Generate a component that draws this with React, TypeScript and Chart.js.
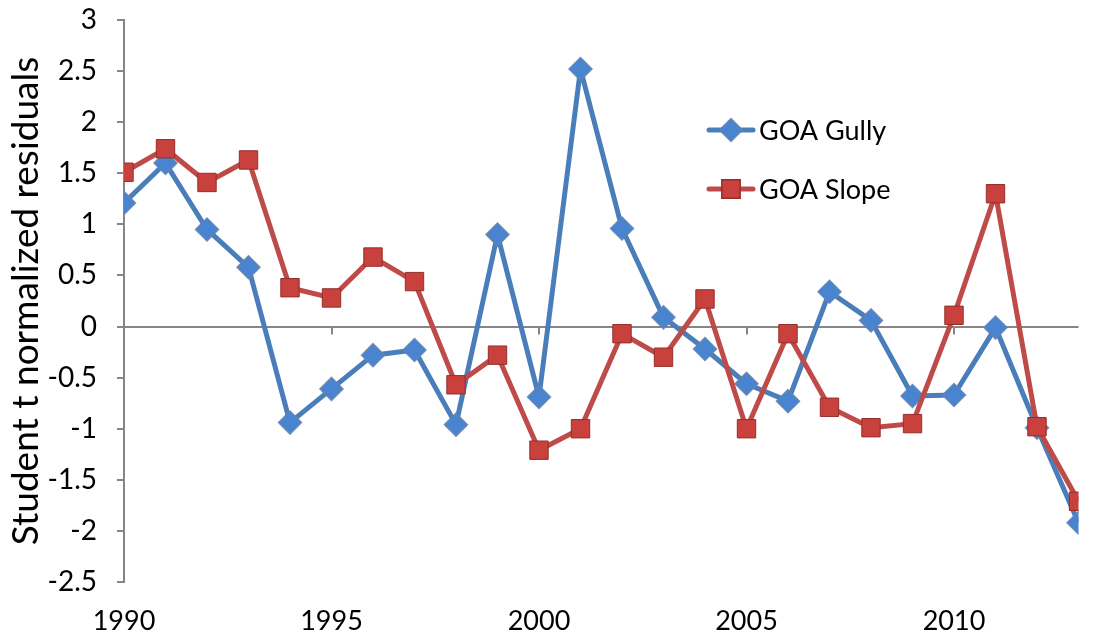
import React, { useEffect, useRef } from "react";
import { Chart, registerables } from "chart.js";

Chart.register(...registerables);

const years = [1990, 1991, 1992, 1993, 1994, 1995, 1996, 1997, 1998, 1999, 2000, 2001, 2002, 2003, 2004, 2005, 2006, 2007, 2008, 2009, 2010, 2011, 2012, 2013];
const gully = [1.21, 1.60, 0.95, 0.58, -0.94, -0.61, -0.28, -0.23, -0.96, 0.90, -0.69, 2.52, 0.96, 0.09, -0.22, -0.56, -0.73, 0.34, 0.06, -0.68, -0.67, -0.01, -0.99, -1.92];
const slope = [1.51, 1.74, 1.41, 1.63, 0.38, 0.28, 0.68, 0.44, -0.57, -0.28, -1.21, -1.00, -0.07, -0.30, 0.27, -1.00, -0.07, -0.79, -0.99, -0.95, 0.11, 1.30, -0.98, -1.71];
const seriesNames = ["GOA Gully", "GOA Slope"];
const yTitle = "Student t normalized residuals";

const FONT = "Lato, 'Open Sans', sans-serif";
const AXIS = "#868686";
const BLUE = "#4A7EBB";
const RED = "#BE4B48";

function drawMarker(ctx: CanvasRenderingContext2D, style: string, x: number, y: number, r: number, fill: string, stroke: string) {
  ctx.save();
  ctx.beginPath();
  if (style === "rectRot") {
    ctx.moveTo(x - r, y);
    ctx.lineTo(x, y - r);
    ctx.lineTo(x + r, y);
    ctx.lineTo(x, y + r);
    ctx.closePath();
  } else {
    const s = Math.SQRT1_2 * r;
    ctx.rect(x - s, y - s, 2 * s, 2 * s);
  }
  ctx.fillStyle = fill;
  ctx.fill();
  ctx.lineWidth = 1.5;
  ctx.strokeStyle = stroke;
  ctx.stroke();
  ctx.restore();
}

const zeroTicksPlugin = {
  id: "zeroTicks",
  beforeDatasetsDraw(chart: any) {
    const { ctx, scales } = chart;
    const xs = scales.x;
    const ys = scales.y;
    const y0 = ys.getPixelForValue(0);
    ctx.save();
    ctx.strokeStyle = AXIS;
    ctx.lineWidth = 2;
    xs.ticks.forEach((t: any) => {
      if (t.value === xs.min) return;
      const px = Math.round(xs.getPixelForValue(t.value));
      ctx.beginPath();
      ctx.moveTo(px, y0);
      ctx.lineTo(px, y0 + 8);
      ctx.stroke();
    });
    ctx.restore();
  },
};

const legendPlugin = {
  id: "customLegend",
  afterDraw(chart: any) {
    const { ctx } = chart;
    const items = [
      { ds: chart.data.datasets[0], y: 130 },
      { ds: chart.data.datasets[1], y: 189 },
    ];
    items.forEach(({ ds, y }) => {
      ctx.save();
      ctx.strokeStyle = ds.borderColor;
      ctx.lineWidth = 5;
      ctx.lineCap = "round";
      ctx.beginPath();
      ctx.moveTo(709, y);
      ctx.lineTo(753, y);
      ctx.stroke();
      drawMarker(ctx, ds.pointStyle, 731, y, ds.pointRadius, ds.pointBackgroundColor, ds.pointBorderColor);
      ctx.fillStyle = "#000";
      ctx.font = `27px ${FONT}`;
      ctx.textBaseline = "middle";
      ctx.textAlign = "left";
      ctx.fillText(ds.label, 759, y + 1);
      ctx.restore();
    });
  },
};

export default function App() {
  const ref = useRef<HTMLCanvasElement | null>(null);
  useEffect(() => {
    document.body.style.margin = "0";
    const canvas = ref.current;
    if (!canvas) return;
    const chart = new Chart(canvas, {
      type: "line",
      data: {
        datasets: [
          {
            label: seriesNames[0],
            data: years.map((yr, i) => ({ x: yr, y: gully[i] })),
            borderColor: BLUE,
            borderWidth: 5,
            pointStyle: "rectRot",
            pointRadius: 11.5,
            pointHoverRadius: 11.5,
            pointBackgroundColor: "#4884CF",
            pointBorderColor: "rgba(100,130,175,0.85)",
            pointBorderWidth: 1.5,
            tension: 0,
            order: 1,
            borderJoinStyle: "round",
          } as any,
          {
            label: seriesNames[1],
            data: years.map((yr, i) => ({ x: yr, y: slope[i] })),
            borderColor: RED,
            borderWidth: 5,
            pointStyle: "rect",
            pointRadius: 13,
            pointHoverRadius: 13,
            pointBackgroundColor: "#C8413D",
            pointBorderColor: "#962E2B",
            pointBorderWidth: 1,
            tension: 0,
            order: 0,
            borderJoinStyle: "round",
          } as any,
        ],
      },
      options: {
        animation: false,
        responsive: false,
        devicePixelRatio: 1,
        layout: { padding: { top: 20, right: 15.5, left: 0, bottom: 0 } },
        plugins: {
          legend: { display: false },
          tooltip: { enabled: false },
        },
        scales: {
          x: {
            type: "linear",
            min: 1990,
            max: 2013,
            grid: { display: false },
            border: { display: false },
            ticks: {
              stepSize: 5,
              includeBounds: false,
              padding: 15,
              color: "#000",
              font: { family: FONT, size: 27 },
              maxRotation: 0,
              callback: (v: any) => String(v),
            },
            afterFit: (s: any) => {
              s.height = 59;
            },
          },
          y: {
            min: -2.5,
            max: 3,
            border: { display: true, color: AXIS, width: 2 },
            grid: {
              color: (c: any) => (c.tick && c.tick.value === 0 ? AXIS : "rgba(0,0,0,0)"),
              lineWidth: 2,
              tickColor: AXIS,
              tickLength: 7,
              tickWidth: 2,
            },
            ticks: {
              stepSize: 0.5,
              padding: 20,
              color: "#000",
              font: { family: FONT, size: 28 },
              callback: (v: any) => String(v),
            },
            title: {
              display: true,
              text: yTitle,
              color: "#000",
              font: { family: FONT, size: 37 },
              padding: { top: 4, bottom: 0 },
            },
            afterFit: (s: any) => {
              s.width = 124;
              s.paddingTop = 0;
              s.paddingBottom = 0;
            },
          },
        },
      } as any,
      plugins: [zeroTicksPlugin, legendPlugin],
    });
    return () => chart.destroy();
  }, []);
  return (
    <div style={{ width: 1094, height: 641, background: "#fff" }}>
      <canvas ref={ref} width={1094} height={641} style={{ display: "block" }} />
    </div>
  );
}
